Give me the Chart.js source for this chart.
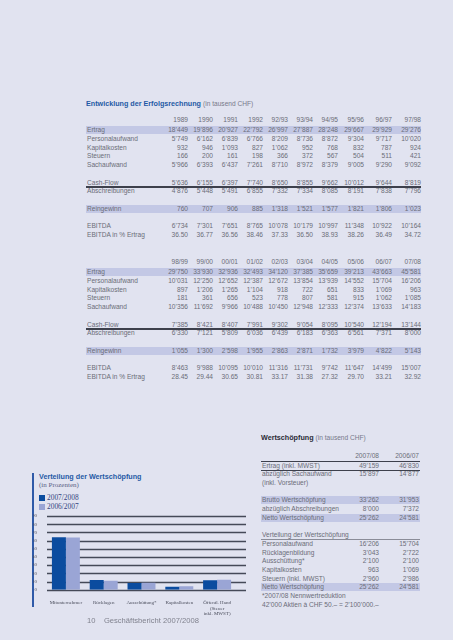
<!DOCTYPE html>
<html>
<head>
<meta charset="utf-8">
<script src="https://cdn.jsdelivr.net/npm/chart.js@4"></script>
<style>
  body { margin: 0; background: #e1e3f0; }
  #page { position: relative; width: 453px; height: 640px; overflow: hidden;
          font-family: "Liberation Sans", Arial, sans-serif; color: #6b6d78; }
  .t { position: absolute; font-size: 6.6px; line-height: 8px; white-space: nowrap; }
  .r { text-align: right; }
  .band { position: absolute; height: 8px; background: #c3c8e5; }
  .rule { position: absolute; height: 1.4px; background: #3d404c; }
  .h1 { position: absolute; font-size: 7.2px; font-weight: bold; color: #1f5aa5; white-space: nowrap; }
  .h1 span { font-weight: normal; color: #77798a; font-size: 6.6px; }
  #valueChart { position: absolute; left: 33px; top: 511px; }
  .serif { font-family: "Liberation Serif", "Times New Roman", serif; }
</style>
</head>
<body>
<div id="page">
  <div class="h1" style="left:86px;top:99px">Entwicklung der Erfolgsrechnung <span>(in tausend CHF)</span></div>
  <div class="h1" style="left:261px;top:433px;color:#2a2c36">Wertschöpfung <span>(in tausend CHF)</span></div>

  <div style="position:absolute;left:32px;top:473px;width:1.5px;height:134px;background:#2f5aa8"></div>
  <div class="h1" style="left:39px;top:472px">Verteilung der Wertschöpfung</div>
  <div class="t serif" style="left:39px;top:481px;font-size:7px;color:#5a6285">(in Prozenten)</div>
  <div id="legend"></div>
  <canvas id="valueChart" width="218" height="108"></canvas>

  <div class="t" style="left:87px;top:616px;font-size:7.6px;line-height:10px;color:#80828e">10&nbsp;&nbsp;&nbsp;&nbsp;Geschäftsbericht 2007/2008</div>
</div>

<script>
// ---- chart data: distribution of value added, percent ----
var categories = ['Mitunternehmer', 'Rücklagen', 'Ausschüttung*', 'Kapitalkosten', ['Öffentl. Hand', '(Steuer', 'inkl. MWST)']];
var seriesNames = ['2007/2008', '2006/2007'];
var share0708 = [64.2, 12.0, 8.3, 3.8, 11.7];
var share0607 = [63.9, 11.1, 8.5, 4.3, 12.1];
var yTicks = [0, 10, 20, 30, 40, 50, 60, 70, 80, 90];

// ---- table data ----
var rowLabels = ['Ertrag', 'Personalaufwand', 'Kapitalkosten', 'Steuern', 'Sachaufwand', '', 'Cash-Flow', 'Abschreibungen', '', 'Reingewinn', '', 'EBITDA', 'EBITDA in % Ertrag'];
var yearsA = ['1989', '1990', '1991', '1992', '92/93', '93/94', '94/95', '95/96', '96/97', '97/98'];
var rowsA = [
  ['18’449', '19’896', '20’927', '22’792', '26’997', '27’887', '28’248', '29’667', '29’929', '29’276'],
  ['5’749', '6’162', '6’839', '6’766', '8’209', '8’736', '8’872', '9’304', '9’717', '10’020'],
  ['932', '946', '1’093', '827', '1’062', '952', '768', '832', '787', '924'],
  ['166', '200', '161', '198', '366', '372', '567', '504', '511', '421'],
  ['5’966', '6’393', '6’437', '7’261', '8’710', '8’972', '8’379', '9’005', '9’290', '9’092'],
  null,
  ['5’636', '6’155', '6’397', '7’740', '8’650', '8’855', '9’662', '10’012', '9’644', '8’819'],
  ['4’876', '5’448', '5’491', '6’855', '7’332', '7’334', '8’085', '8’191', '7’838', '7’796'],
  null,
  ['760', '707', '906', '885', '1’318', '1’521', '1’577', '1’821', '1’806', '1’023'],
  null,
  ['6’734', '7’301', '7’651', '8’765', '10’078', '10’179', '10’997', '11’348', '10’922', '10’164'],
  ['36.50', '36.77', '36.56', '38.46', '37.33', '36.50', '38.93', '38.26', '36.49', '34.72']
];
var yearsB = ['98/99', '99/00', '00/01', '01/02', '02/03', '03/04', '04/05', '05/06', '06/07', '07/08'];
var rowsB = [
  ['29’750', '33’930', '32’936', '32’493', '34’120', '37’385', '35’659', '39’213', '43’663', '45’581'],
  ['10’031', '12’250', '12’652', '12’387', '12’672', '13’854', '13’939', '14’552', '15’704', '16’206'],
  ['897', '1’206', '1’265', '1’104', '918', '722', '651', '833', '1’069', '963'],
  ['181', '361', '656', '523', '778', '807', '581', '915', '1’062', '1’085'],
  ['10’356', '11’692', '9’966', '10’488', '10’450', '12’948', '12’333', '12’374', '13’633', '14’183'],
  null,
  ['7’385', '8’421', '8’407', '7’991', '9’302', '9’054', '8’095', '10’540', '12’194', '13’144'],
  ['6’330', '7’121', '5’809', '6’036', '6’439', '6’183', '6’363', '6’561', '7’371', '8’000'],
  null,
  ['1’055', '1’300', '2’598', '1’955', '2’863', '2’871', '1’732', '3’979', '4’822', '5’143'],
  null,
  ['8’463', '9’988', '10’095', '10’010', '11’316', '11’731', '9’742', '11’647', '14’499', '15’007'],
  ['28.45', '29.44', '30.65', '30.81', '33.17', '31.38', '27.32', '29.70', '33.21', '32.92']
];

var wsHead = ['2007/08', '2006/07'];
var wsRows = [
  ['Ertrag (inkl. MWST)', '49’159', '46’830'],
  ['abzüglich Sachaufwand', '15’897', '14’877'],
  ['(inkl. Vorsteuer)', '', ''],
  ['', '', ''],
  ['Brutto Wertschöpfung', '33’262', '31’953'],
  ['abzüglich Abschreibungen', '8’000', '7’372'],
  ['Netto Wertschöpfung', '25’262', '24’581'],
  ['', '', ''],
  ['Verteilung der Wertschöpfung', '', ''],
  ['Personalaufwand', '16’206', '15’704'],
  ['Rücklagenbildung', '3’043', '2’722'],
  ['Ausschüttung*', '2’100', '2’100'],
  ['Kapitalkosten', '963', '1’069'],
  ['Steuern (inkl. MWST)', '2’960', '2’986'],
  ['Netto Wertschöpfung', '25’262', '24’581'],
  ['*2007/08 Nennwertreduktion', '', ''],
  ['42’000 Aktien à CHF 50.– = 2’100’000.–', '', '']
];

// ---- build tables ----
var page = document.getElementById('page');
function put(cls, text, left, top, width, style) {
  var d = document.createElement('div');
  d.className = cls;
  d.textContent = text;
  d.style.left = left + 'px';
  d.style.top = top + 'px';
  if (width) d.style.width = width + 'px';
  if (style) d.style.cssText += style;
  page.appendChild(d);
  return d;
}

var colRight = [188, 213, 238, 263, 288, 313, 338, 364, 392, 421];
var rowStep = 8.75;
function block(years, rows, top) {
  years.forEach(function (y, i) { put('t r', y, colRight[i] - 40, top - 4, 40); });
  rows.forEach(function (vals, r) {
    var y = top + 10 + r * rowStep;
    if (r === 0 || r === 9) put('band', '', 86, y - 4, 335);
    if (r === 7) put('rule', '', 86, y - 5, 335);
    if (!vals) return;
    put('t', rowLabels[r], 87, y - 4);
    vals.forEach(function (v, i) { put('t r', v, colRight[i] - 40, y - 4, 40); });
  });
}
block(yearsA, rowsA, 120);
block(yearsB, rowsB, 262);

var wsTop = 456;
put('t r', wsHead[0], 339, wsTop - 4, 40);
put('t r', wsHead[1], 379, wsTop - 4, 40);
put('rule', '', 261, wsTop + 4.5, 159);
wsRows.forEach(function (row, r) {
  var y = wsTop + 9.5 + r * 8.7;
  if (r === 4 || r === 6 || r === 14) put('band', '', 261, y - 4, 159);
  if (r === 0) put('rule', '', 261, y + 4.3, 159);
  if (r === 8) put('rule', '', 261, y + 4.2, 159, 'height:0.8px;background:#8a8c98');
  if (row[0]) put('t', row[0], 262, y - 4);
  if (row[1]) put('t r', row[1], 339, y - 4, 40);
  if (row[2]) put('t r', row[2], 379, y - 4, 40);
});

// ---- chart ----
var barColors = ['#0b4c9f', '#9aa5d5'];

// gridlines reach a little past the last bar group, so draw them ourselves
var gridPlugin = {
  id: 'wideGrid',
  beforeDatasetsDraw: function (chart) {
    var c = chart.ctx, a = chart.chartArea, ys = chart.scales.y;
    c.save();
    c.lineWidth = 1.3;
    c.strokeStyle = '#454a58';
    yTicks.forEach(function (v) {
      var py = Math.round(ys.getPixelForValue(v)) + 0.5;
      c.beginPath();
      c.moveTo(a.left, py);
      c.lineTo(a.right + 10, py);
      c.stroke();
    });
    c.restore();
  }
};

var ctx = document.getElementById('valueChart').getContext('2d');
var chart = new Chart(ctx, {
  type: 'bar',
  data: {
    labels: categories,
    datasets: [
      { label: seriesNames[0], data: share0708, backgroundColor: barColors[0] },
      { label: seriesNames[1], data: share0607, backgroundColor: barColors[1] }
    ]
  },
  options: {
    responsive: false,
    animation: false,
    events: [],
    layout: { padding: { top: 0, right: 15, left: 0, bottom: 0 } },
    categoryPercentage: 0.74,
    barPercentage: 1.0,
    plugins: { legend: { display: false }, tooltip: { enabled: false } },
    scales: {
      x: {
        grid: { display: false },
        border: { display: false },
        ticks: {
          color: '#4a4d5c', padding: 2, maxRotation: 0, autoSkip: false,
          font: { family: 'Liberation Serif', size: 5, lineHeight: 1.15 }
        }
      },
      y: {
        min: 0, max: 90,
        grid: { display: false },
        border: { display: false },
        ticks: { stepSize: 10, autoSkip: false, color: '#4a4d5c', padding: 2,
                 font: { family: 'Liberation Serif', size: 5 } },
        afterFit: function (s) { s.width = 14; }
      }
    }
  },
  plugins: [gridPlugin]
});

// legend from the chart's own datasets
var lg = document.getElementById('legend');
chart.data.datasets.forEach(function (ds, i) {
  var top = 493 + i * 9;
  var sq = document.createElement('div');
  sq.style.cssText = 'position:absolute;left:39px;top:' + (top + 1.5) + 'px;width:6px;height:6px;background:' + ds.backgroundColor;
  lg.appendChild(sq);
  var tx = document.createElement('div');
  tx.className = 't serif';
  tx.style.cssText = 'left:47px;top:' + top + 'px;font-size:7.4px;line-height:9px;color:#34457e';
  tx.textContent = ds.label;
  lg.appendChild(tx);
});
</script>
</body>
</html>
